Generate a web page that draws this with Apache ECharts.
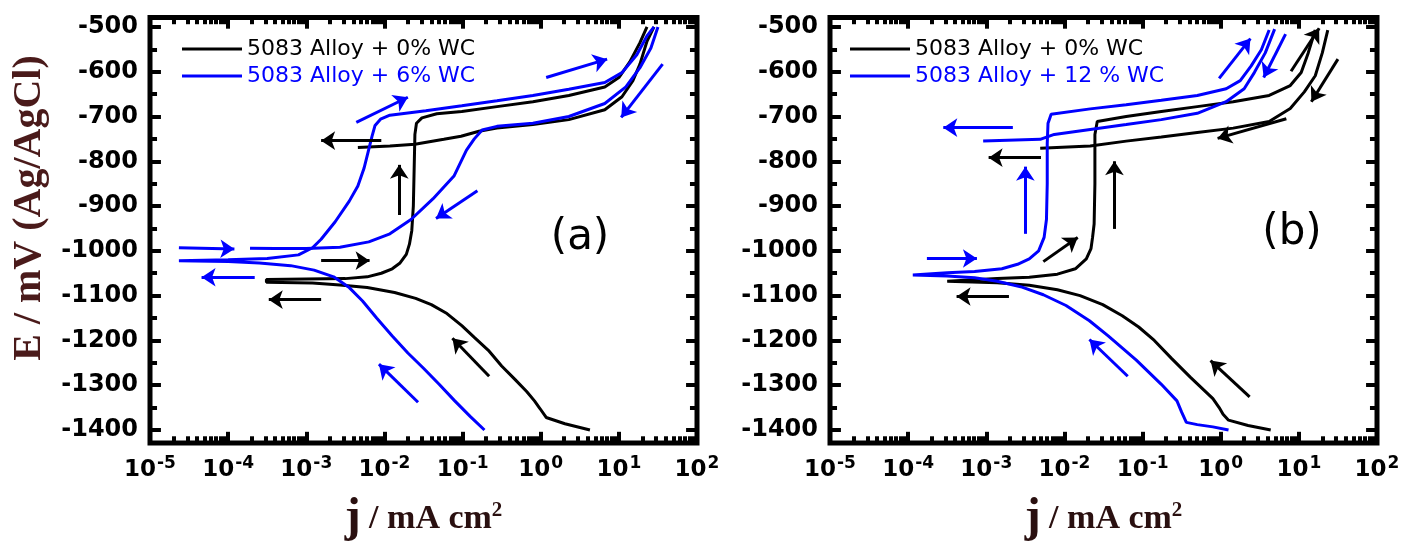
<!DOCTYPE html>
<html><head><meta charset="utf-8">
<script src="https://cdn.jsdelivr.net/npm/echarts@6/dist/echarts.min.js"></script>
<style>html,body{margin:0;padding:0;background:#fff}#c{width:1411px;height:548px}</style>
</head><body><div id="c"></div>
<script>
// ---- series names ----
const NAME_0 = '5083 Alloy + 0% WC';
const NAME_6 = '5083 Alloy + 6% WC';
const NAME_12 = '5083 Alloy + 12 % WC';

// ---- tick values ----
const yMajorTicks = [-1400,-1300,-1200,-1100,-1000,-900,-800,-700,-600,-500];
const yMinorTicks = [-1350,-1250,-1150,-1050,-950,-850,-750,-650,-550];
const xDecades = [-5,-4,-3,-2,-1,0,1,2];   // log10(j) of major ticks, labelled 10^n

// ---- data: [log10(j / mA cm^-2), E / mV] ----
// panel (a)
const blackA_fwd = [[0.63,-1400],[0.31,-1386],[0.07,-1372],[-0.01,-1352],[-0.08,-1335],[-0.18,-1314],[-0.33,-1287],[-0.50,-1257],[-0.67,-1222],[-0.85,-1193],[-1.01,-1167],[-1.20,-1140],[-1.40,-1120],[-1.60,-1106],[-1.87,-1093],[-2.22,-1082],[-2.57,-1076],[-2.92,-1072],[-3.51,-1070],
  [-3.51,-1064],[-3.0,-1063],[-2.5,-1062],[-2.22,-1058],[-2.04,-1050],[-1.90,-1040],[-1.80,-1027],[-1.72,-1008],[-1.68,-985],[-1.65,-955],[-1.63,-900],[-1.62,-820],[-1.61,-740],[-1.59,-715],[-1.52,-703],[-1.33,-694],[-1.01,-689],[-0.56,-678],[-0.10,-667],[0.36,-653],[0.82,-634],[1.00,-613],[1.14,-578],[1.27,-535],[1.36,-500]];
const blackA_rev = [[1.45,-500],[1.36,-532],[1.27,-583],[1.18,-620],[1.04,-656],[0.82,-685],[0.36,-707],[-0.10,-718],[-0.56,-726],[-0.79,-733],[-1.02,-744],[-1.24,-751],[-1.61,-762],[-1.93,-766],[-2.34,-769]];
const blueA_fwd = [[-0.72,-1400],[-0.90,-1370],[-1.10,-1335],[-1.30,-1298],[-1.50,-1262],[-1.70,-1228],[-1.90,-1190],[-2.10,-1150],[-2.28,-1112],[-2.45,-1082],[-2.65,-1058],[-2.90,-1043],[-3.20,-1033],[-3.60,-1027],[-4.00,-1024],[-4.63,-1022],
  [-4.63,-1018],[-4.0,-1020],[-3.5,-1017],[-3.10,-1009],[-2.92,-993],[-2.81,-974],[-2.63,-935],[-2.45,-889],[-2.34,-855],[-2.26,-815],[-2.21,-780],[-2.16,-745],[-2.12,-720],[-2.05,-706],[-1.93,-697],[-1.47,-687],[-1.01,-676],[-0.56,-665],[-0.10,-653],[0.36,-639],[0.82,-624],[1.04,-602],[1.23,-562],[1.36,-520],[1.45,-500]];
const blueA_rev = [[1.50,-500],[1.41,-547],[1.27,-591],[1.09,-634],[0.82,-671],[0.36,-700],[-0.10,-715],[-0.56,-722],[-0.75,-730],[-0.85,-750],[-0.95,-775],[-1.11,-833],[-1.38,-884],[-1.66,-930],[-1.93,-962],[-2.20,-980],[-2.57,-992],[-3.0,-995],[-3.40,-995],[-3.72,-994]];
// panel (b)
const blackB_fwd = [[0.64,-1400],[0.35,-1390],[0.10,-1378],[0.03,-1365],[-0.02,-1350],[-0.10,-1330],[-0.39,-1282],[-0.63,-1240],[-0.85,-1200],[-1.05,-1170],[-1.26,-1145],[-1.51,-1120],[-1.80,-1100],[-2.09,-1087],[-2.45,-1077],[-2.86,-1071],[-3.50,-1068],
  [-3.50,-1064],[-2.86,-1062],[-2.45,-1059],[-2.09,-1052],[-1.86,-1040],[-1.72,-1018],[-1.66,-995],[-1.64,-970],[-1.62,-940],[-1.61,-850],[-1.61,-740],[-1.58,-711],[-1.21,-700],[-0.76,-689],[-0.30,-678],[0.16,-667],[0.62,-653],[0.89,-631],[1.03,-602],[1.12,-558],[1.21,-507]];
const blackB_rev = [[1.37,-507],[1.30,-558],[1.21,-609],[1.07,-645],[0.89,-682],[0.62,-711],[0.16,-726],[-0.30,-736],[-0.76,-746],[-1.21,-755],[-1.67,-766],[-2.31,-771]];
const blueB_fwd = [[0.10,-1400],[-0.10,-1393],[-0.30,-1388],[-0.44,-1383],[-0.50,-1360],[-0.56,-1335],[-0.76,-1298],[-1.08,-1244],[-1.44,-1190],[-1.68,-1156],[-1.98,-1122],[-2.27,-1098],[-2.56,-1080],[-2.86,-1068],[-3.15,-1060],[-3.50,-1056],[-3.94,-1054],
  [-3.94,-1050],[-3.50,-1049],[-3.15,-1046],[-2.80,-1040],[-2.60,-1030],[-2.45,-1018],[-2.33,-1000],[-2.26,-970],[-2.23,-930],[-2.22,-850],[-2.22,-760],[-2.21,-715],[-2.17,-695],[-1.67,-683],[-1.21,-674],[-0.76,-664],[-0.30,-653],[0.07,-638],[0.25,-620],[0.39,-587],[0.52,-551],[0.62,-507]];
const blueB_rev = [[0.69,-505],[0.57,-558],[0.43,-602],[0.30,-638],[0.07,-667],[-0.30,-693],[-0.76,-707],[-1.21,-718],[-1.67,-729],[-2.13,-740],[-2.31,-751],[-3.04,-755]];

// ---- scan-direction arrows: [[from],[to]] in (log10 j, E) ----
const arrowsA_black = [[[-2.04,-754],[-2.81,-754]],[[-1.81,-920],[-1.81,-808]],[[-2.81,-1022],[-2.19,-1022]],[[-2.81,-1109],[-3.48,-1109]],[[-0.66,-1280],[-1.13,-1195]]];
const arrowsA_blue = [[[0.07,-613],[0.85,-572]],[[-2.36,-713],[-1.70,-657]],[[1.56,-583],[1.03,-702]],[[-0.81,-866],[-1.34,-928]],[[-4.63,-993],[-3.92,-996]],[[-3.66,-1059],[-4.34,-1059]],[[-1.57,-1338],[-2.07,-1253]]];
const arrowsB_black = [[[0.90,-599],[1.26,-503]],[[1.50,-572],[1.16,-667]],[[0.84,-705],[-0.04,-749]],[[-2.30,-792],[-2.97,-792]],[[-1.36,-951],[-1.36,-800]],[[-2.27,-1024],[-1.83,-970]],[[-2.71,-1102],[-3.38,-1102]],[[0.37,-1326],[-0.13,-1245]]];
const arrowsB_blue = [[[-0.02,-615],[0.38,-526]],[[0.83,-516],[0.55,-613]],[[-2.66,-725],[-3.55,-725]],[[-2.50,-962],[-2.50,-812]],[[-3.76,-1017],[-3.12,-1017]],[[-1.19,-1280],[-1.68,-1198]]];

// ---- build ----
const BLACK = '#000000', BLUE = '#0000ff';
const X_MIN = -5, X_MAX = 2, Y_MIN = -1429, Y_MAX = -479;
const xMinorTicks = [];
for (let n = X_MIN; n < X_MAX; n++) for (let k = 2; k <= 9; k++) xMinorTicks.push(n + Math.log10(k));
const labelFont = {fontFamily:'DejaVu Sans', fontWeight:'bold', color:'#000'};
const noLine = {show:false, onZero:false};
// inward tick lengths expressed in axis units (about 11 px major, 7 px minor)
const TX_MAJ = 0.14, TX_MIN = 0.09, TY_MAJ = 25, TY_MIN = 15;

function tickSegments() {
  const t = [];
  yMajorTicks.forEach(v => { t.push([[X_MIN, v], [X_MIN + TX_MAJ, v]]); t.push([[X_MAX, v], [X_MAX - TX_MAJ, v]]); });
  yMinorTicks.forEach(v => { t.push([[X_MIN, v], [X_MIN + TX_MIN, v]]); t.push([[X_MAX, v], [X_MAX - TX_MIN, v]]); });
  xDecades.forEach(v => { t.push([[v, Y_MIN], [v, Y_MIN + TY_MAJ]]); t.push([[v, Y_MAX], [v, Y_MAX - TY_MAJ]]); });
  xMinorTicks.forEach(v => { t.push([[v, Y_MIN], [v, Y_MIN + TY_MIN]]); t.push([[v, Y_MAX], [v, Y_MAX - TY_MIN]]); });
  return t;
}
function tickSeries(g) {
  return {type:'lines', name:'ticks ' + g, coordinateSystem:'cartesian2d', xAxisIndex:g, yAxisIndex:g,
    symbol:['none','none'], silent:true, z:6, clip:false,
    lineStyle:{color:'#000', width:4, opacity:1, curveness:0},
    data:tickSegments().map(c => ({coords:c}))};
}

function xAxis(g) {
  return {gridIndex:g, type:'value', min:X_MIN, max:X_MAX, interval:1, position:'bottom',
    axisLine:noLine, splitLine:{show:false}, axisTick:{show:false},
    axisLabel:{margin:12, formatter: v => '{b|10}{s|' + v + '}',
      rich:{b:Object.assign({fontSize:23}, labelFont), s:Object.assign({fontSize:17, padding:[0,0,13,1]}, labelFont)}},
    name:'{j|j}{t| / mA cm}{s|2}', nameLocation:'middle', nameGap:52,
    nameTextStyle:{rich:{
      j:{fontFamily:'Liberation Serif', fontWeight:'bold', fontSize:48, color:'#2a1010'},
      t:{fontFamily:'Liberation Serif', fontWeight:'bold', fontSize:34, color:'#2a1010'},
      s:{fontFamily:'Liberation Serif', fontWeight:'bold', fontSize:21, color:'#2a1010', padding:[0,0,17,0]}}}};
}
function yAxis(g) {
  return {gridIndex:g, type:'value', min:Y_MIN, max:Y_MAX, position:'left',
    axisLine:noLine, splitLine:{show:false}, axisTick:{show:false},
    axisLabel:Object.assign({customValues:yMajorTicks, margin:12, fontSize:24, formatter: v => String(v)}, labelFont)};
}
function curve(name, data, color, g) {
  return {type:'line', name, data, xAxisIndex:g, yAxisIndex:g, showSymbol:false, symbol:'none',
    lineStyle:{color, width:3}, itemStyle:{color}, z:3, clip:true};
}
function arrows(id, list, color, g) {
  return {type:'lines', name:id, coordinateSystem:'cartesian2d', xAxisIndex:g, yAxisIndex:g,
    symbol:['none','arrow'], symbolSize:14, silent:true, z:4, clip:false,
    lineStyle:{color, width:3, opacity:1, curveness:0},
    data:list.map(c => ({coords:c}))};
}
function legendFor(left, names) {
  return {left, top:33, orient:'vertical', itemWidth:60, itemHeight:3, itemGap:5, icon:'rect', selectedMode:false,
    textStyle:{fontFamily:'DejaVu Sans', fontSize:22},
    data:names.map(n => ({name:n, textStyle:{color: n === NAME_0 ? BLACK : BLUE}}))};
}

const chart = echarts.init(document.getElementById('c'), null, {renderer:'canvas'});
chart.setOption({
  animation:false,
  backgroundColor:'#fff',
  grid:[
    {left:150, top:17.5, width:547, height:427.5, show:true, borderColor:'#000', borderWidth:5, backgroundColor:'transparent'},
    {left:830, top:17.5, width:547, height:427.5, show:true, borderColor:'#000', borderWidth:5, backgroundColor:'transparent'}
  ],
  xAxis:[xAxis(0), xAxis(1)],
  yAxis:[yAxis(0), yAxis(1)],
  legend:[legendFor(177, [NAME_0, NAME_6]), legendFor(845, [NAME_0, NAME_12])],
  graphic:[
    {type:'text', x:30, y:208, rotation:Math.PI/2,
      style:{text:'E / mV (Ag/AgCl)', font:'bold 40px "Liberation Serif"', fill:'#4a1a1a', align:'center', verticalAlign:'middle', textAlign:'center', textVerticalAlign:'middle'}},
    {type:'text', x:580, y:238, style:{text:'(a)', font:'42px "DejaVu Sans"', fill:'#000', align:'center', verticalAlign:'middle', textAlign:'center', textVerticalAlign:'middle'}},
    {type:'text', x:1292, y:233, style:{text:'(b)', font:'42px "DejaVu Sans"', fill:'#000', align:'center', verticalAlign:'middle', textAlign:'center', textVerticalAlign:'middle'}}
  ],
  series:[
    curve(NAME_0, blackA_fwd, BLACK, 0), curve(NAME_0, blackA_rev, BLACK, 0),
    curve(NAME_6, blueA_fwd, BLUE, 0), curve(NAME_6, blueA_rev, BLUE, 0),
    arrows('arrows a black', arrowsA_black, BLACK, 0), arrows('arrows a blue', arrowsA_blue, BLUE, 0),
    curve(NAME_0, blackB_fwd, BLACK, 1), curve(NAME_0, blackB_rev, BLACK, 1),
    curve(NAME_12, blueB_fwd, BLUE, 1), curve(NAME_12, blueB_rev, BLUE, 1),
    arrows('arrows b black', arrowsB_black, BLACK, 1), arrows('arrows b blue', arrowsB_blue, BLUE, 1),
    tickSeries(0), tickSeries(1)
  ]
});
</script></body></html>
